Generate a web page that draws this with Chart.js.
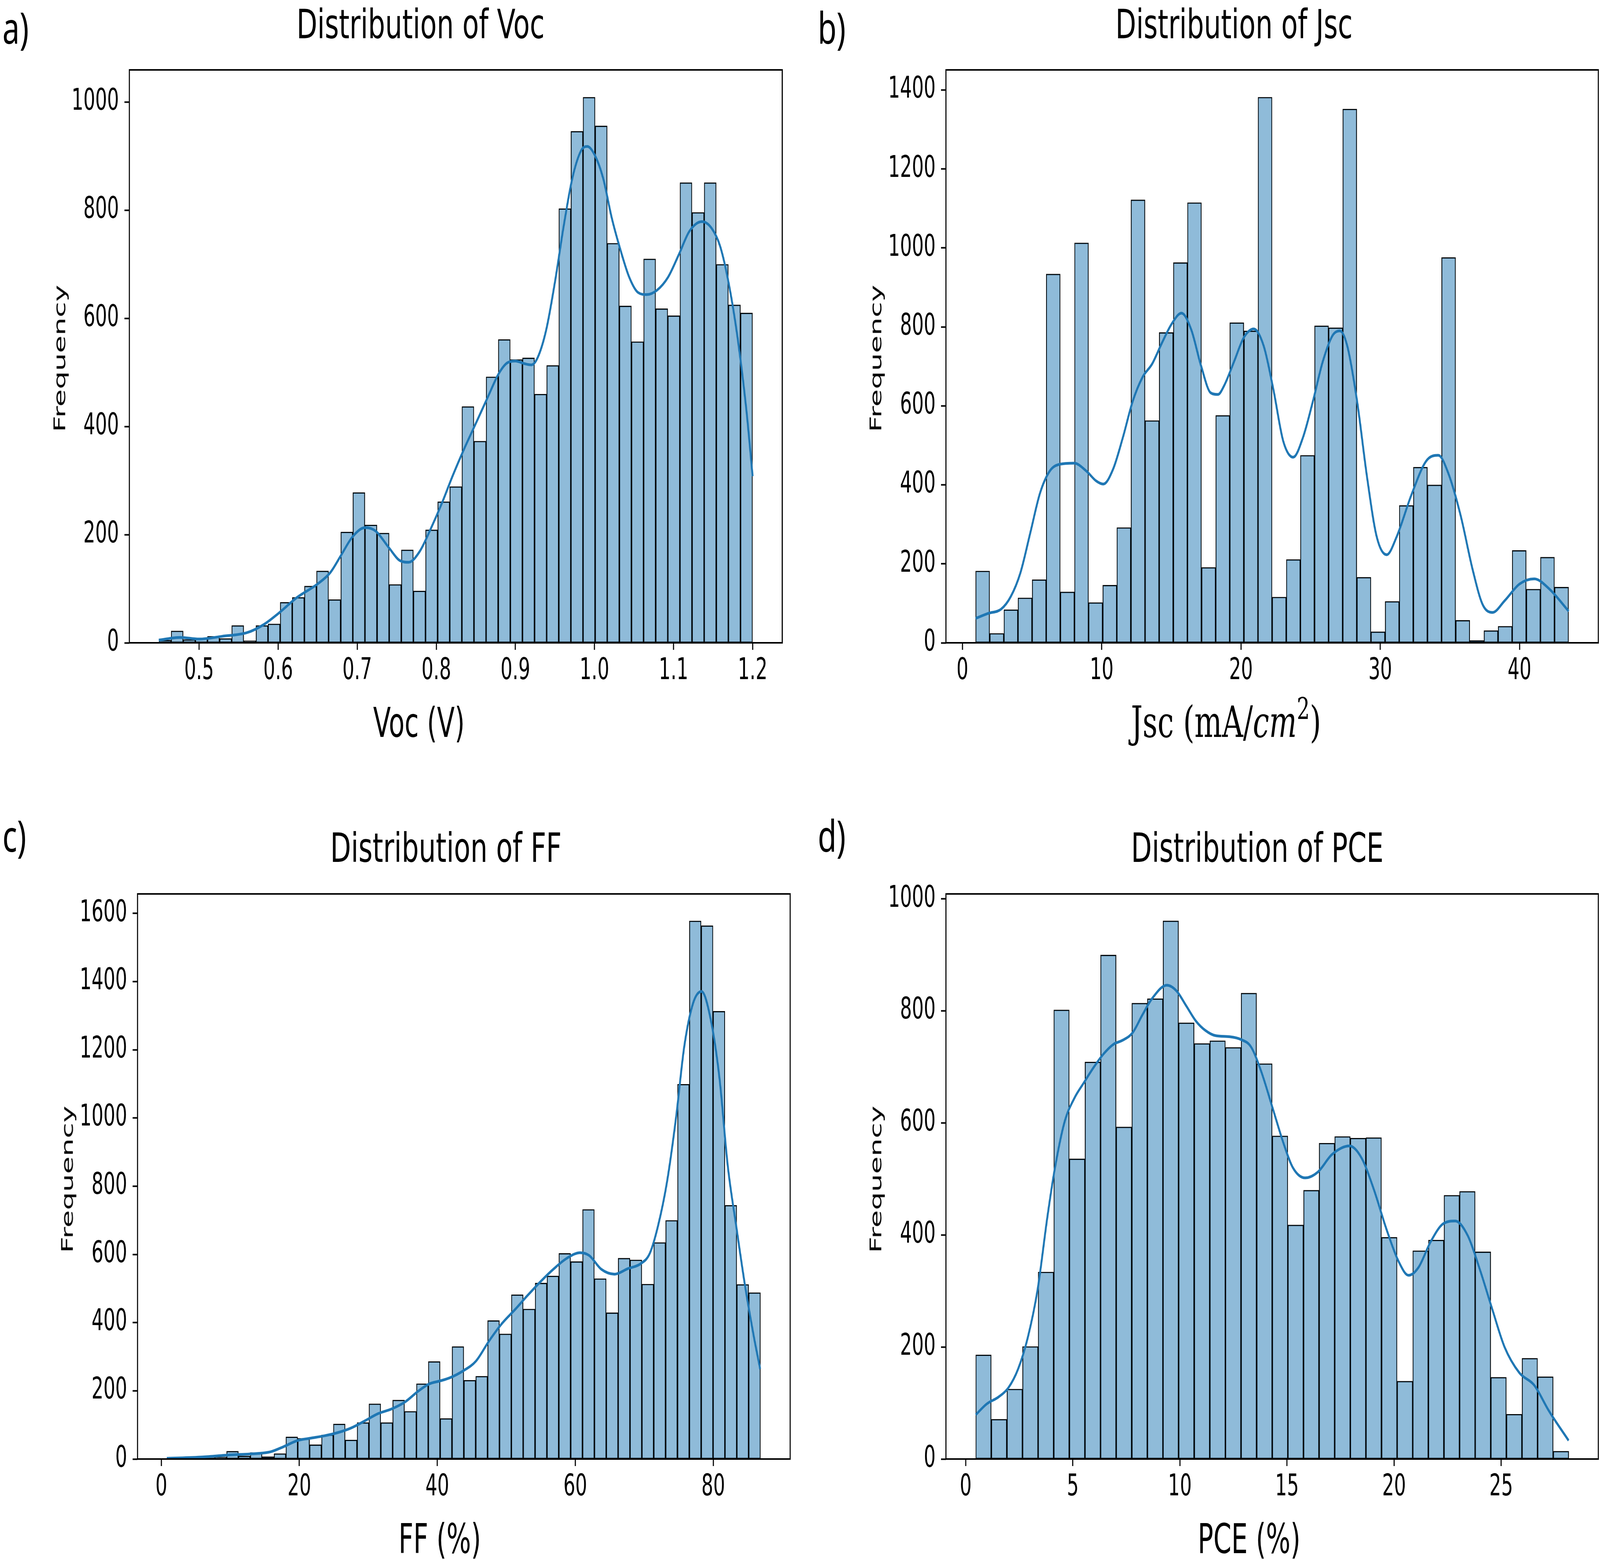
<!DOCTYPE html>
<html lang="en">
<head>
<meta charset="UTF-8">
<title>Distributions of Voc, Jsc, FF and PCE</title>
<script src="https://cdn.jsdelivr.net/npm/chart.js"></script>
<style>
  html, body { margin: 0; padding: 0; background: #fff; overflow: hidden; }
  #wrap { position: relative; overflow: hidden; background: #fff; }
  #page { width: 5864px; height: 3992px; position: absolute; left: 0; top: 0; transform-origin: 0 0; background: #fff; }
  canvas { position: absolute; }
  .txt { position: absolute; white-space: nowrap; line-height: 1.2; color: #000; z-index: 2; }
  .bl { display: inline-block; width: 0; height: 0; vertical-align: baseline; }
</style>
</head>
<body>
<div id="wrap"><div id="page"></div></div>
<script>
// ---- Voc histogram (V) ----
const vocBinStart = 0.4493, vocBinWidth = 0.01532;
const vocCounts = [5, 22, 6, 8, 12, 8, 32, 4, 32, 35, 75, 84, 105, 133, 80, 205, 278, 218, 203, 108,
  172, 96, 209, 261, 289, 437, 373, 492, 561, 524, 527, 460, 513, 803, 946, 1009, 956, 739, 623, 557,
  710, 618, 605, 851, 796, 851, 700, 625, 610];
const vocKdeX = [0.449, 0.476, 0.5, 0.529, 0.561, 0.582, 0.6, 0.624, 0.649, 0.666, 0.68, 0.694, 0.71,
  0.723, 0.74, 0.754, 0.765, 0.779, 0.793, 0.807, 0.821, 0.835, 0.851, 0.865, 0.879, 0.89, 0.9, 0.912,
  0.92, 0.928, 0.939, 0.95, 0.961, 0.972, 0.983, 0.991, 1.0, 1.011, 1.022, 1.033, 1.044, 1.055, 1.066,
  1.079, 1.093, 1.107, 1.12, 1.136, 1.148, 1.159, 1.17, 1.181, 1.192, 1.2];
const vocKdeY = [5, 10, 7, 12, 19, 34, 54, 84, 108, 130, 163, 196, 213, 207, 176, 152, 149, 169, 211,
  258, 310, 358, 409, 454, 498, 518, 521, 516, 514, 527, 579, 667, 770, 859, 910, 918, 903, 859, 785,
  726, 676, 648, 644, 652, 676, 719, 761, 779, 767, 733, 663, 564, 432, 308];
const vocXTicks = [0.5, 0.6, 0.7, 0.8, 0.9, 1.0, 1.1, 1.2];
const vocYTicks = [0, 200, 400, 600, 800, 1000];

// ---- Jsc histogram (mA/cm2) ----
const jscBinStart = 0.946, jscBinWidth = 1.0138;
const jscCounts = [182, 24, 84, 114, 160, 934, 129, 1013, 102, 146, 292, 1122, 563, 786, 963, 1115,
  191, 576, 811, 790, 1382, 116, 211, 475, 803, 798, 1352, 166, 28, 105, 348, 445, 400, 976, 57, 6,
  31, 42, 234, 136, 217, 141];
const jscKdeX = [0.95, 1.89, 2.77, 3.47, 4.17, 4.87, 5.57, 6.27, 6.97, 8.02, 8.9, 9.6, 10.12, 10.82,
  11.52, 12.22, 12.92, 13.63, 14.33, 15.03, 15.73, 16.43, 17.13, 17.83, 18.35, 18.8, 19.5, 20.2, 20.92,
  21.63, 22.33, 23.04, 23.75, 24.45, 25.16, 25.87, 26.57, 27.1, 27.63, 28.34, 29.05, 29.75, 30.46,
  31.17, 32.23, 33.29, 34.17, 34.88, 35.76, 36.65, 37.35, 38.06, 38.94, 40.0, 41.06, 42.12, 43.53];
const jscKdeY = [62, 75, 85, 117, 178, 278, 379, 435, 452, 455, 435, 410, 402, 440, 520, 611, 672,
  707, 760, 808, 835, 793, 702, 633, 629, 652, 712, 773, 795, 752, 641, 510, 470, 520, 611, 712, 778,
  790, 752, 611, 420, 268, 223, 268, 374, 460, 475, 430, 324, 183, 97, 77, 107, 149, 162, 137, 80];
const jscXTicks = [0, 10, 20, 30, 40];
const jscYTicks = [0, 200, 400, 600, 800, 1000, 1200, 1400];

// ---- FF histogram (%) ----
const ffBinStart = 0.85, ffBinWidth = 1.72;
const ffCounts = [1, 1, 2, 4, 6, 23, 9, 19, 7, 16, 65, 61, 42, 71, 103, 56, 107, 162, 107, 173,
  140, 221, 286, 119, 330, 231, 243, 406, 367, 482, 440, 516, 537, 603, 579, 732, 529, 429, 589, 584,
  513, 635, 700, 1099, 1578, 1564, 1313, 744, 512, 488];
const ffKdeX = [0.78, 6.0, 9.9, 13.8, 15.8, 17.7, 19.7, 21.6, 23.6, 25.5, 27.5, 29.5, 31.4, 33.4,
  35.3, 37.3, 38.8, 40.4, 41.8, 43.7, 45.6, 47.5, 49.4, 51.3, 53.1, 55.0, 56.9, 58.8, 60.7, 62.0, 63.8,
  65.7, 67.6, 69.5, 70.8, 72.0, 73.3, 74.6, 75.8, 77.1, 78.3, 79.6, 80.9, 82.1, 83.4, 84.6, 85.9, 86.8];
const ffKdeY = [2, 6, 12, 16, 21, 36, 54, 61, 68, 77, 91, 112, 133, 147, 167, 200, 220, 229, 238,
  258, 287, 346, 398, 439, 480, 521, 558, 589, 605, 597, 556, 542, 558, 573, 603, 684, 813, 1000, 1210,
  1338, 1371, 1292, 1117, 860, 673, 509, 357, 264];
const ffXTicks = [0, 20, 40, 60, 80];
const ffYTicks = [0, 200, 400, 600, 800, 1000, 1200, 1400, 1600];

// ---- PCE histogram (%) ----
const pceBinStart = 0.466, pceBinWidth = 0.7288;
const pceCounts = [186, 71, 125, 201, 334, 802, 536, 709, 900, 593, 814, 822, 961, 779, 742, 747,
  735, 832, 706, 577, 418, 480, 564, 576, 573, 574, 396, 139, 372, 391, 471, 478, 370, 146, 80, 180,
  147, 14];
const pceKdeX = [0.47, 0.97, 1.54, 1.99, 2.45, 2.9, 3.36, 3.81, 4.15, 4.61, 5.07, 5.52, 5.97, 6.43,
  6.88, 7.34, 7.79, 8.25, 8.7, 9.39, 9.84, 10.3, 10.75, 11.2, 11.66, 12.34, 12.86, 13.32, 13.78, 14.36,
  14.82, 15.28, 15.85, 16.43, 17.11, 17.92, 18.49, 19.06, 19.64, 20.21, 20.68, 21.14, 21.71, 22.29,
  22.86, 23.44, 24.01, 24.59, 25.16, 25.85, 26.54, 27.23, 28.15];
const pceKdeY = [79, 98, 111, 127, 161, 217, 303, 431, 516, 601, 644, 672, 699, 723, 740, 748, 761,
  793, 822, 846, 836, 809, 782, 765, 756, 754, 749, 736, 694, 623, 566, 520, 502, 512, 544, 559, 537,
  481, 411, 353, 328, 342, 388, 420, 425, 399, 338, 267, 200, 154, 132, 86, 33];
const pceXTicks = [0, 5, 10, 15, 20, 25];
const pceYTicks = [0, 200, 400, 600, 800, 1000];

const TICK_FONT = "'DejaVu Sans Condensed', 'DejaVu Sans', sans-serif";
const BAR_FILL = 'rgba(31, 119, 180, 0.5)';
const KDE_COLOR = '#1f77b4';

const page = document.getElementById('page');
const wrap = document.getElementById('wrap');
// the browser caps the window width, so stretch the 5864x3992 page onto whatever window we get
const vw = window.innerWidth, vh = window.innerHeight;
page.style.transform = 'scale(' + (vw / 5864) + ', ' + (vh / 3992) + ')';
wrap.style.width = vw + 'px';
wrap.style.height = vh + 'px';

// draws the black box around the plot area, on top of the bars
const framePlugin = {
  id: 'frame',
  afterDatasetsDraw(chart) {
    const { ctx, chartArea: a } = chart;
    ctx.save();
    ctx.strokeStyle = '#000';
    ctx.lineWidth = 4;
    ctx.strokeRect(a.left, a.top, a.right - a.left, a.bottom - a.top);
    ctx.restore();
  }
};

function zeroPad(s) {
  s.paddingLeft = 0; s.paddingRight = 0; s.paddingTop = 0; s.paddingBottom = 0;
}

function makePanel(p) {
  const cl = p.box.left - 330, ct = p.box.top - 60;
  const w = p.box.right - cl + 40, h = p.box.bottom - ct + 160;
  const cv = document.createElement('canvas');
  cv.style.left = cl + 'px'; cv.style.top = ct + 'px';
  cv.style.width = w + 'px'; cv.style.height = h + 'px';
  cv.width = w; cv.height = h;
  page.appendChild(cv);

  const bars = p.counts.map((c, i) => ({ x: p.binStart + (i + 0.5) * p.binWidth, y: c }));
  const kde = p.kdeX.map((x, i) => ({ x: x, y: p.kdeY[i] }));

  const gridOpts = { offset: false, drawOnChartArea: false, drawTicks: true,
    tickLength: 18, tickWidth: 4, tickColor: '#000' };

  new Chart(cv, {
    type: 'bar',
    data: {
      datasets: [
        {
          type: 'line',
          data: kde,
          order: 0,
          borderColor: KDE_COLOR,
          borderWidth: 7,
          pointRadius: 0,
          fill: false,
          cubicInterpolationMode: 'monotone'
        },
        {
          type: 'bar',
          data: bars,
          order: 1,
          backgroundColor: BAR_FILL,
          borderColor: '#000',
          borderWidth: 2.5,
          borderSkipped: false,
          barPercentage: 1,
          categoryPercentage: 1
        }
      ]
    },
    options: {
      responsive: false,
      animation: false,
      devicePixelRatio: 1,
      events: [],
      layout: { padding: { top: 60, right: 40, left: 0, bottom: 0 } },
      plugins: { legend: { display: false }, tooltip: { enabled: false } },
      scales: {
        x: {
          type: 'linear',
          min: p.xRange[0],
          max: p.xRange[1],
          offset: false,
          grid: gridOpts,
          border: { display: false },
          ticks: {
            color: '#000',
            font: { family: TICK_FONT, size: 76 },
            padding: 10,
            maxRotation: 0,
            autoSkip: false,
            callback: p.xFmt
          },
          afterBuildTicks: s => { s.ticks = p.xTicks.map(v => ({ value: v })); },
          afterFit: s => { s.height = 160; zeroPad(s); }
        },
        y: {
          type: 'linear',
          min: 0,
          max: p.yMax,
          grid: gridOpts,
          border: { display: false },
          ticks: {
            color: '#000',
            font: { family: TICK_FONT, size: 76 },
            padding: 20,
            autoSkip: false,
            callback: v => String(v)
          },
          afterBuildTicks: s => { s.ticks = p.yTicks.map(v => ({ value: v })); },
          afterFit: s => { s.width = 330; zeroPad(s); }
        }
      }
    },
    plugins: [framePlugin]
  });
}

// real DOM text, placed by its baseline
function placeText(html, o) {
  const el = document.createElement('div');
  el.className = 'txt';
  el.style.font = o.size + 'px ' + o.family;
  el.innerHTML = html + '<span class="bl"></span>';
  page.appendChild(el);
  const bl = el.querySelector('.bl').offsetTop;
  const w = el.offsetWidth;
  if (o.rotate) {
    const oy = bl - 0.2465 * o.size;
    el.style.left = (o.x - w / 2) + 'px';
    el.style.top = (o.y - oy) + 'px';
    el.style.transformOrigin = (w / 2) + 'px ' + oy + 'px';
    el.style.transform = 'rotate(-90deg) scaleY(' + (o.sy || 1) + ')';
  } else {
    const left = o.align === 'center' ? o.x - w / 2 : o.x;
    el.style.left = left + 'px';
    el.style.top = (o.y - bl) + 'px';
    el.style.transformOrigin = (o.align === 'center' ? w / 2 : 0) + 'px ' + bl + 'px';
    el.style.transform = 'scaleX(' + (o.sx || 1) + ')';
  }
}

makePanel({
  box: { left: 474, right: 2867, top: 179, bottom: 1646 },
  binStart: vocBinStart, binWidth: vocBinWidth, counts: vocCounts,
  kdeX: vocKdeX, kdeY: vocKdeY,
  xRange: [0.4118, 1.2375], yMax: 1059.5,
  xTicks: vocXTicks, yTicks: vocYTicks, xFmt: v => v.toFixed(1)
});
makePanel({
  box: { left: 3467, right: 5858, top: 179, bottom: 1646 },
  binStart: jscBinStart, binWidth: jscBinWidth, counts: jscCounts,
  kdeX: jscKdeX, kdeY: jscKdeY,
  xRange: [-1.18, 45.66], yMax: 1451,
  xTicks: jscXTicks, yTicks: jscYTicks, xFmt: v => String(v)
});
makePanel({
  box: { left: 504, right: 2896, top: 2289, bottom: 3736 },
  binStart: ffBinStart, binWidth: ffBinWidth, counts: ffCounts,
  kdeX: ffKdeX, kdeY: ffKdeY,
  xRange: [-3.45, 91.15], yMax: 1657,
  xTicks: ffXTicks, yTicks: ffYTicks, xFmt: v => String(v)
});
makePanel({
  box: { left: 3467, right: 5858, top: 2289, bottom: 3736 },
  binStart: pceBinStart, binWidth: pceBinWidth, counts: pceCounts,
  kdeX: pceKdeX, kdeY: pceKdeY,
  xRange: [-0.92, 29.54], yMax: 1009,
  xTicks: pceXTicks, yTicks: pceYTicks, xFmt: v => String(v)
});

const LETTER = { size: 112, family: "'Noto Sans', sans-serif", align: 'left' };
placeText('a)', Object.assign({ x: 9, y: 112 }, LETTER));
placeText('b)', Object.assign({ x: 2997, y: 112 }, LETTER));
placeText('c)', Object.assign({ x: 9, y: 2181 }, LETTER));
placeText('d)', Object.assign({ x: 2997, y: 2181 }, LETTER));

const TITLE = { size: 104, family: "'DejaVu Sans', sans-serif", align: 'center', sx: 0.95 };
placeText('Distribution of Voc', Object.assign({ x: 1541, y: 98 }, TITLE));
placeText('Distribution of Jsc', Object.assign({ x: 4522, y: 98 }, TITLE));
placeText('Distribution of FF', Object.assign({ x: 1634, y: 2207 }, TITLE));
placeText('Distribution of PCE', Object.assign({ x: 4608, y: 2207 }, TITLE));

const XLAB = { size: 105, family: "'DejaVu Sans', sans-serif", align: 'center', sx: 0.9 };
placeText('Voc (V)', Object.assign({ x: 1535, y: 1887 }, XLAB));
placeText('Jsc (mA/<i>cm</i><span style="font-size:0.7em;vertical-align:46px">2</span>)',
  Object.assign({}, XLAB, { x: 4493, y: 1887, size: 110, sx: 0.97, family: "'DejaVu Serif', serif" }));
placeText('FF (%)', Object.assign({ x: 1612, y: 3977 }, XLAB));
placeText('PCE (%)', Object.assign({ x: 4578, y: 3977 }, XLAB));

const YLAB = { size: 73, family: "'DejaVu Sans', sans-serif", rotate: true, sy: 0.8 };
placeText('Frequency', Object.assign({ x: 224, y: 918 }, YLAB));
placeText('Frequency', Object.assign({ x: 3215, y: 918 }, YLAB));
placeText('Frequency', Object.assign({ x: 252, y: 3020 }, YLAB));
placeText('Frequency', Object.assign({ x: 3215, y: 3020 }, YLAB));
</script>
</body>
</html>
